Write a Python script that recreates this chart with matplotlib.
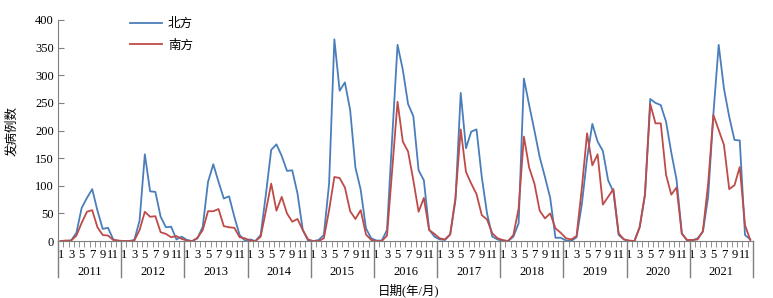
import matplotlib
matplotlib.use('Agg')
import matplotlib.pyplot as plt
import numpy as np

plt.rcParams['font.family'] = ['Liberation Serif', 'Noto Sans CJK SC']

years = ['2011', '2012', '2013', '2014', '2015', '2016', '2017', '2018', '2019', '2020', '2021']
month_labels = ['1', '3', '5', '7', '9', '11']

north = [
    0, 0, 1, 15, 60, 78, 94, 55, 22, 24, 3, 0,
    0, 0, 2, 37, 157, 90, 89, 44, 25, 26, 3, 8,
    2, 0, 5, 26, 107, 139, 107, 77, 81, 44, 11, 1,
    3, 0, 11, 85, 165, 175, 154, 127, 128, 86, 20, 1,
    0, 2, 11, 104, 365, 272, 287, 237, 133, 93, 23, 5,
    1, 1, 20, 190, 355, 310, 248, 226, 128, 110, 21, 8,
    3, 2, 12, 74, 268, 168, 198, 202, 116, 50, 8, 3,
    0, 0, 8, 32, 294, 246, 200, 152, 116, 78, 6, 6,
    1, 0, 7, 66, 150, 212, 180, 163, 110, 89, 11, 3,
    0, 0, 26, 83, 257, 250, 246, 216, 160, 111, 14, 1,
    1, 5, 17, 80, 231, 355, 276, 225, 183, 182, 11, 3,
]
south = [
    0, 1, 1, 10, 33, 53, 56, 25, 11, 10, 2, 1,
    0, 0, 1, 20, 53, 44, 45, 16, 13, 7, 9, 4,
    1, 0, 6, 20, 54, 54, 58, 27, 25, 24, 7, 5,
    1, 0, 8, 55, 104, 55, 80, 50, 35, 40, 20, 3,
    0, 0, 5, 56, 116, 114, 97, 54, 40, 56, 12, 2,
    0, 0, 10, 130, 252, 180, 162, 110, 53, 78, 20, 13,
    5, 3, 12, 78, 202, 125, 104, 85, 47, 39, 14, 5,
    2, 0, 11, 59, 189, 133, 104, 55, 41, 50, 23, 15,
    5, 3, 9, 95, 195, 137, 157, 66, 80, 94, 14, 3,
    1, 0, 25, 85, 248, 213, 213, 120, 84, 97, 13, 2,
    2, 3, 18, 104, 228, 201, 174, 94, 101, 134, 29, 2,
]

n = len(north)
x = np.arange(n)

fig = plt.figure(figsize=(7.73, 2.98), dpi=100)
ax = fig.add_axes([0.075, 0.191, 0.899, 0.742])

ax.plot(x, north, color='#4a7ebb', lw=1.3, label='北方')
ax.plot(x, south, color='#be4b48', lw=1.3, label='南方')

ax.set_xlim(-0.5, n - 0.5)
ax.set_ylim(0, 400)
ax.set_yticks(range(0, 401, 50))

axis_col = '#7f7f7f'
for s in ['top', 'right']:
    ax.spines[s].set_visible(False)
ax.spines['left'].set_color(axis_col)
ax.spines['bottom'].set_color(axis_col)
ax.tick_params(axis='y', direction='in', length=4, color=axis_col, labelsize=9, pad=3)

# month labels at odd months, ticks at every month boundary
pos = [i * 12 + m for i in range(len(years)) for m in range(0, 12, 2)]
ax.set_xticks(pos)
ax.set_xticklabels(month_labels * len(years))
ax.set_xticks(np.arange(-0.5, n, 1), minor=True)
ax.tick_params(axis='x', which='major', length=0, labelsize=9, pad=6)
ax.tick_params(axis='x', which='minor', direction='out', length=4, color=axis_col)

# year separators and labels
tr = ax.get_xaxis_transform()
for i in range(len(years) + 1):
    ax.plot([i * 12 - 0.5] * 2, [0, -0.163], transform=tr, color=axis_col, lw=1, clip_on=False)
for i, yr in enumerate(years):
    ax.text(i * 12 + 5.5, -0.14, yr, transform=tr, ha='center', va='center', fontsize=9)

fig.text(0.528, 0.025, '日期(年/月)', ha='center', va='center', fontsize=9)
fig.text(0.016, 0.56, '发病例数', ha='center', va='center', rotation=90, fontsize=9)

ax.legend(loc='upper left', bbox_to_anchor=(0.088, 1.06), frameon=False, fontsize=9,
          handlelength=2.5, labelspacing=0.75, handletextpad=0.5)

fig.savefig('out.png', dpi=100, facecolor='white')
